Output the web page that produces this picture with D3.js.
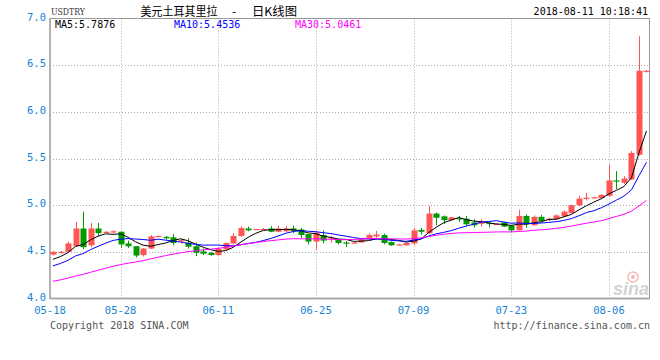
<!DOCTYPE html>
<html><head><meta charset="utf-8">
<script src="https://cdn.jsdelivr.net/npm/d3@7/dist/d3.min.js"></script>
<style>body{margin:0;background:#fff}svg{display:block}</style>
</head><body><svg id="c" width="660" height="360"></svg>
<script>
// ---- data ----
const opens  = [4.47,4.49,4.50,4.56,4.75,4.57,4.75,4.71,4.71,4.715,4.59,4.56,4.465,4.535,4.665,4.66,4.655,4.62,4.60,4.56,4.505,4.49,4.465,4.525,4.59,4.67,4.75,4.74,4.74,4.75,4.715,4.72,4.75,4.74,4.69,4.61,4.68,4.65,4.63,4.60,4.595,4.60,4.635,4.665,4.68,4.605,4.575,4.57,4.59,4.735,4.70,4.91,4.88,4.84,4.86,4.855,4.815,4.80,4.81,4.795,4.815,4.78,4.73,4.885,4.785,4.875,4.84,4.85,4.88,4.915,5.00,5.075,5.08,5.075,5.10,5.265,5.24,5.275,5.54,6.43];
const highs  = [4.51,4.51,4.61,4.82,4.93,4.81,4.81,4.72,4.73,4.72,4.62,4.56,4.54,4.68,4.675,4.67,4.69,4.64,4.645,4.60,4.535,4.50,4.545,4.60,4.70,4.775,4.77,4.745,4.755,4.775,4.78,4.775,4.78,4.755,4.69,4.725,4.73,4.67,4.64,4.615,4.61,4.64,4.70,4.725,4.695,4.61,4.58,4.60,4.755,4.755,4.99,4.92,4.89,4.875,4.885,4.885,4.85,4.85,4.83,4.805,4.82,4.79,4.95,4.90,4.89,4.895,4.86,4.90,4.945,5.005,5.10,5.13,5.09,5.12,5.435,5.365,5.31,5.58,6.81,6.45];
const lows   = [4.46,4.48,4.50,4.55,4.53,4.55,4.67,4.71,4.70,4.545,4.54,4.44,4.45,4.53,4.66,4.63,4.57,4.59,4.535,4.455,4.465,4.46,4.46,4.52,4.58,4.66,4.72,4.735,4.735,4.71,4.71,4.71,4.70,4.645,4.58,4.525,4.59,4.60,4.58,4.55,4.59,4.60,4.63,4.65,4.58,4.565,4.57,4.565,4.57,4.685,4.69,4.785,4.80,4.835,4.82,4.78,4.76,4.77,4.76,4.79,4.765,4.715,4.73,4.76,4.78,4.815,4.83,4.845,4.87,4.91,4.99,5.05,5.07,5.07,5.09,5.17,5.225,5.27,5.53,6.42];
const closes = [4.50,4.50,4.59,4.75,4.55,4.75,4.70,4.715,4.72,4.58,4.56,4.46,4.535,4.665,4.67,4.645,4.595,4.625,4.555,4.49,4.48,4.465,4.535,4.595,4.67,4.755,4.73,4.745,4.745,4.715,4.75,4.75,4.725,4.68,4.61,4.705,4.62,4.655,4.595,4.59,4.60,4.635,4.68,4.685,4.595,4.57,4.58,4.595,4.73,4.715,4.91,4.865,4.84,4.87,4.855,4.795,4.785,4.815,4.80,4.80,4.77,4.73,4.885,4.795,4.875,4.83,4.855,4.89,4.93,5.00,5.07,5.08,5.085,5.11,5.265,5.255,5.285,5.56,6.44,6.44];
// closes of the days before the first visible candle (estimated from where the MA lines start)
const priorCloses = [4.04,4.05,4.06,4.05,4.05,4.06,4.07,4.07,4.06,4.08,4.09,4.10,4.10,4.12,4.13,4.15,4.17,4.18,4.20,4.21,4.24,4.26,4.28,4.30,4.32,4.35,4.38,4.42,4.45];
const tickIndex  = [0,9,22,35,48,61,74];
const tickLabels = ["05-18","05-28","06-11","06-25","07-09","07-23","08-06"];
const yTicks = [4.0,4.5,5.0,5.5,6.0,6.5,7.0];
const maPeriods = [5,10,30];
const maLabels  = ["MA5:5.7876","MA10:5.4536","MA30:5.0461"];
const maColors  = ["#000000","#0000ff","#ff00ff"];

// ---- layout ----
const L=50, R=649.5, T=18.5, B=298.5;
const svg = d3.select("#c");
const x = d3.scaleLinear().domain([-0.4, closes.length-1+0.4]).range([L, R]);
const y = d3.scaleLinear().domain([4,7]).range([B, T]);
const mono = "'DejaVu Sans Mono', monospace";
const px = v => Math.round(v)+0.5;

// grid
svg.append("g").selectAll("line").data(yTicks.filter(v=>v>4&&v<7)).join("line")
  .attr("x1",L).attr("x2",R).attr("y1",d=>px(y(d))).attr("y2",d=>px(y(d)))
  .attr("stroke","#aaa").attr("stroke-dasharray","1,2");
svg.append("g").selectAll("line").data(tickIndex.filter(i=>i>0)).join("line")
  .attr("x1",d=>px(x(d))).attr("x2",d=>px(x(d))).attr("y1",T).attr("y2",B)
  .attr("stroke","#aaa").attr("stroke-dasharray","1,2");

// frame
svg.append("rect").attr("x",L).attr("y",T).attr("width",R-L).attr("height",B-T)
  .attr("fill","none").attr("stroke","#999");
svg.append("line").attr("x1",L).attr("x2",R).attr("y1",B).attr("y2",B).attr("stroke","#aaa").attr("stroke-width",2);
svg.append("line").attr("x1",L).attr("x2",L).attr("y1",T).attr("y2",B).attr("stroke","#aaa").attr("stroke-width",1.5);

// y tick labels
svg.append("g").selectAll("text").data(yTicks).join("text")
  .attr("x",46).attr("y",d=>Math.max(y(d)-1.5,16)).attr("dy","0.35em")
  .attr("text-anchor","end").attr("font-family",mono).attr("font-size",10.5)
  .attr("fill","#1583d6").text(d=>d.toFixed(1));
// x tick labels
svg.append("g").selectAll("text").data(tickIndex).join("text")
  .attr("x",(d,i)=> i===0 ? x(d)-3 : x(d)).attr("y",314).attr("text-anchor","middle")
  .attr("font-family",mono).attr("font-size",10.5).attr("fill","#1583d6")
  .text((d,i)=>tickLabels[i]);

// watermark
const wm = svg.append("g").attr("opacity",0.55);
wm.append("circle").attr("cx",633).attr("cy",277).attr("r",5).attr("fill","none").attr("stroke","#f08080").attr("stroke-width",1.5);
wm.append("circle").attr("cx",633).attr("cy",277).attr("r",2).attr("fill","#f08080");
wm.append("text").attr("x",631).attr("y",295).attr("text-anchor","middle")
  .attr("font-family","'Liberation Sans', Arial").attr("font-style","italic").attr("font-weight","bold")
  .attr("font-size",18).attr("fill","#b0b0b0").text("sina");

// candles
const data = closes.map((c,i)=>({i,o:opens[i],h:highs[i],l:lows[i],c}));
const up = d => d.c >= d.o;
const RED="#ff5555", GREEN="#009900";
const cg = svg.append("g");
cg.selectAll("line").data(data).join("line")
  .attr("x1",d=>px(x(d.i))).attr("x2",d=>px(x(d.i)))
  .attr("y1",d=>y(d.h)).attr("y2",d=>y(d.l))
  .attr("stroke",d=>up(d)?RED:GREEN);
cg.selectAll("rect").data(data).join("rect")
  .attr("x",d=>Math.round(x(d.i))-2.5).attr("width",6)
  .attr("y",d=>Math.min(y(d.o),y(d.c)))
  .attr("height",d=>Math.max(1.2,Math.abs(y(d.o)-y(d.c))))
  .attr("fill",d=>up(d)?RED:GREEN);

// moving averages
const all = priorCloses.concat(closes);
const off = priorCloses.length;
maPeriods.forEach((p,k)=>{
  const vals = closes.map((c,i)=>{
    const j=i+off; return d3.mean(all.slice(j-p+1,j+1));
  });
  svg.append("path").datum(vals)
    .attr("d",d3.line().x((v,i)=>x(i)).y(v=>y(v)))
    .attr("fill","none").attr("stroke",maColors[k]).attr("stroke-width",1);
});

// legend
const legX=[55,174,295];
svg.append("g").selectAll("text").data(maLabels).join("text")
  .attr("x",(d,i)=>legX[i]).attr("y",28)
  .attr("font-family",mono).attr("font-size",10).attr("fill",(d,i)=>maColors[i]).text(d=>d);

// header
svg.append("text").attr("x",51).attr("y",15).attr("font-family","'DejaVu Serif', serif")
  .attr("font-size",10).attr("fill","#333").attr("textLength",34).attr("lengthAdjust","spacingAndGlyphs").text("USDTRY");
const cjk = "'Noto Sans CJK SC', sans-serif";
svg.append("text").attr("x",140.5).attr("y",16).attr("font-family",cjk).attr("font-size",12)
  .attr("fill","#000").attr("textLength",77).attr("lengthAdjust","spacingAndGlyphs").text("美元土耳其里拉");
svg.append("text").attr("x",234).attr("y",16).attr("text-anchor","middle").attr("font-family",cjk).attr("font-size",12).attr("fill","#000").text("-");
svg.append("text").attr("x",252).attr("y",16).attr("font-family",cjk).attr("font-size",12)
  .attr("fill","#000").attr("textLength",45).attr("lengthAdjust","spacingAndGlyphs").text("日K线图");
svg.append("text").attr("x",648).attr("y",15).attr("text-anchor","end").attr("font-family",mono)
  .attr("font-size",10).attr("fill","#000").text("2018-08-11 10:18:41");

// footer
svg.append("text").attr("x",50).attr("y",329).attr("font-family",mono).attr("font-size",10).attr("fill","#555").text("Copyright 2018 SINA.COM");
svg.append("text").attr("x",650).attr("y",329).attr("text-anchor","end").attr("font-family",mono).attr("font-size",10).attr("fill","#555").text("http://finance.sina.com.cn");
</script></body></html>
